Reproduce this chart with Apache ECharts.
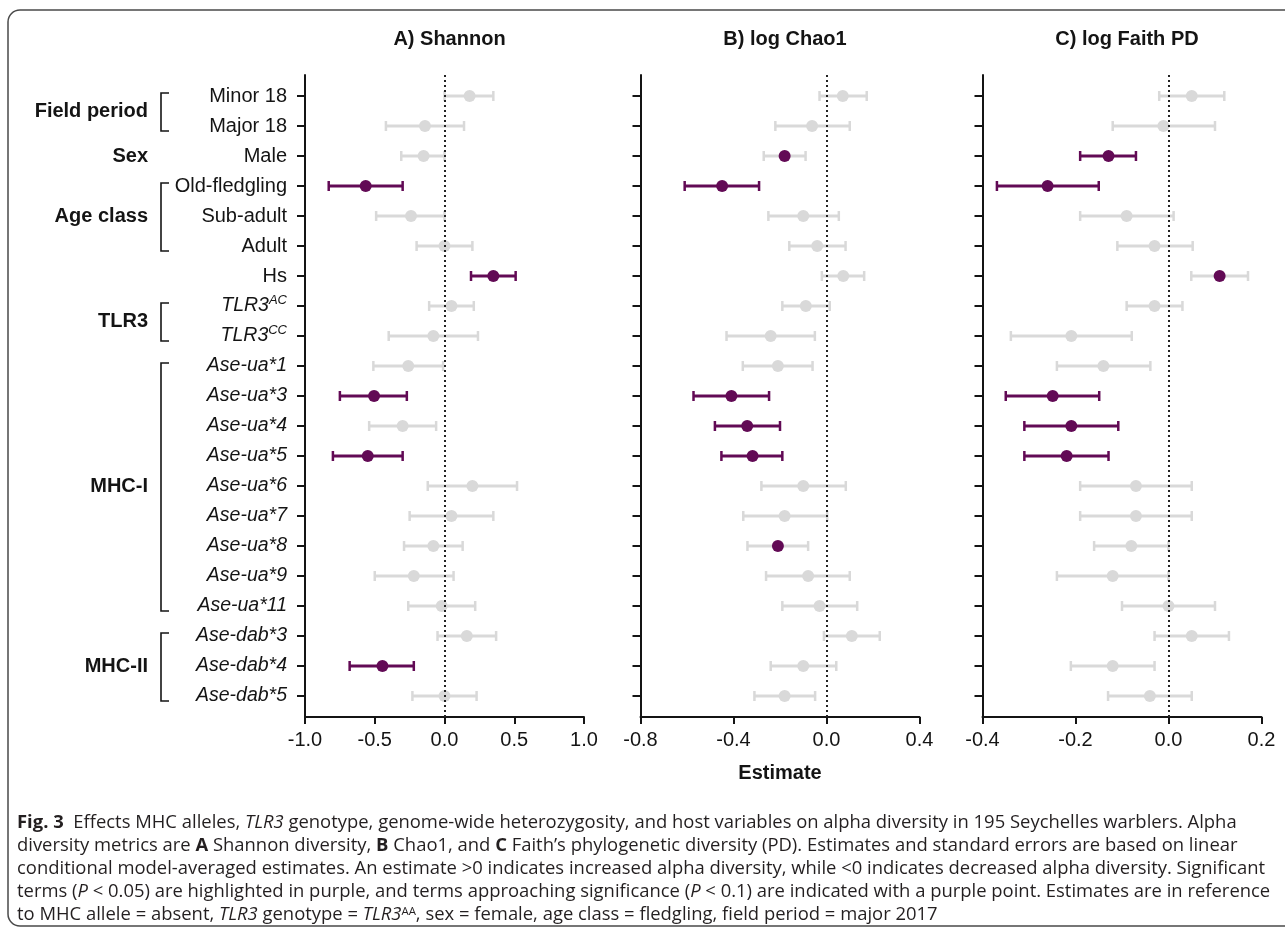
<!DOCTYPE html>
<html>
<head>
<meta charset="utf-8">
<title>Fig. 3 alpha diversity</title>
<script src="https://cdn.jsdelivr.net/npm/echarts@6/dist/echarts.min.js"></script>
<style>
  html, body { margin: 0; padding: 0; background: #fff; }
  #main { width: 1285px; height: 929px; }
</style>
</head>
<body>
<div id="main"></div>
<script>
// row labels, top to bottom
const rows = ['Minor 18', 'Major 18', 'Male', 'Old-fledgling', 'Sub-adult', 'Adult', 'Hs',
  'TLR3^AC', 'TLR3^CC', 'Ase-ua*1', 'Ase-ua*3', 'Ase-ua*4', 'Ase-ua*5', 'Ase-ua*6',
  'Ase-ua*7', 'Ase-ua*8', 'Ase-ua*9', 'Ase-ua*11', 'Ase-dab*3', 'Ase-dab*4', 'Ase-dab*5'];
// rows from this index on are written in italics
const firstItalicRow = 7;

// groups on the left: name, first row, last row, bracket?
const groupNames = ['Field period', 'Sex', 'Age class', 'TLR3', 'MHC-I', 'MHC-II'];
const groupFirst = [0, 2, 3, 7, 9, 18];
const groupLast = [1, 2, 5, 8, 17, 20];
const groupBracket = [true, false, true, true, true, true];

// significance: 2 = P < 0.05 (purple bar), 1 = P < 0.1 (purple point), 0 = none
// A) Shannon
const shannonEst = [0.18, -0.14, -0.15, -0.565, -0.24, 0.00, 0.35, 0.05, -0.08, -0.26, -0.505, -0.30, -0.55, 0.20, 0.05, -0.08, -0.22, -0.02, 0.16, -0.445, 0.00];
const shannonLo = [0.00, -0.42, -0.31, -0.83, -0.49, -0.20, 0.19, -0.11, -0.40, -0.51, -0.75, -0.54, -0.80, -0.12, -0.25, -0.29, -0.50, -0.26, -0.05, -0.68, -0.23];
const shannonHi = [0.35, 0.14, 0.00, -0.30, 0.00, 0.20, 0.51, 0.21, 0.24, -0.01, -0.27, -0.06, -0.30, 0.52, 0.35, 0.13, 0.065, 0.22, 0.37, -0.22, 0.23];
const shannonSig = [0, 0, 0, 2, 0, 0, 2, 0, 0, 0, 2, 0, 2, 0, 0, 0, 0, 0, 0, 2, 0];
const shannonTicks = [-1.0, -0.5, 0.0, 0.5, 1.0];

// B) log Chao1
const chaoEst = [0.07, -0.062, -0.18, -0.449, -0.10, -0.04, 0.072, -0.089, -0.24, -0.209, -0.409, -0.341, -0.318, -0.10, -0.18, -0.209, -0.079, -0.03, 0.109, -0.10, -0.18];
const chaoLo = [-0.03, -0.22, -0.27, -0.61, -0.25, -0.16, -0.02, -0.19, -0.43, -0.36, -0.572, -0.48, -0.452, -0.28, -0.358, -0.34, -0.26, -0.19, -0.011, -0.24, -0.31];
const chaoHi = [0.173, 0.10, -0.09, -0.29, 0.053, 0.082, 0.162, 0.014, -0.05, -0.06, -0.247, -0.20, -0.19, 0.083, 0.003, -0.079, 0.10, 0.132, 0.229, 0.042, -0.049];
const chaoSig = [0, 0, 1, 2, 0, 0, 0, 0, 0, 0, 2, 2, 2, 0, 0, 1, 0, 0, 0, 0, 0];
const chaoTicks = [-0.8, -0.4, 0.0, 0.4];

// C) log Faith PD
const faithEst = [0.05, -0.011, -0.129, -0.26, -0.09, -0.03, 0.11, -0.03, -0.209, -0.14, -0.249, -0.209, -0.219, -0.07, -0.07, -0.08, -0.12, 0.00, 0.05, -0.12, -0.04];
const faithLo = [-0.02, -0.12, -0.19, -0.369, -0.19, -0.11, 0.049, -0.09, -0.339, -0.24, -0.35, -0.31, -0.31, -0.19, -0.19, -0.16, -0.24, -0.10, -0.03, -0.21, -0.13];
const faithHi = [0.12, 0.10, -0.07, -0.15, 0.011, 0.052, 0.171, 0.03, -0.079, -0.039, -0.149, -0.108, -0.129, 0.05, 0.05, 0.00, 0.00, 0.10, 0.13, -0.03, 0.05];
const faithSig = [0, 0, 2, 2, 0, 0, 1, 0, 0, 0, 2, 2, 2, 0, 0, 0, 0, 0, 0, 0, 0];
const faithTicks = [-0.4, -0.2, 0.0, 0.2];

const panelTitles = ['A) Shannon', 'B) log Chao1', 'C) log Faith PD'];

const PURPLE = '#620a55';
const GREY = '#d9d9d9';
const INK = '#141414';
const CAPINK = '#231f20';
const FONT = '"Liberation Sans", Arial, Helvetica, sans-serif';
const CAPFONT = '"Open Sans", "Liberation Sans", sans-serif';

const panels = [
  { est: shannonEst, lo: shannonLo, hi: shannonHi, sig: shannonSig, ticks: shannonTicks },
  { est: chaoEst, lo: chaoLo, hi: chaoHi, sig: chaoSig, ticks: chaoTicks },
  { est: faithEst, lo: faithLo, hi: faithHi, sig: faithSig, ticks: faithTicks }
];
// grid left edges / widths (px)
const gridLeft = [305, 640.5, 982.5];
const gridWidth = 279;
const gridTop = 75;
const gridHeight = 642;

const rowIdx = rows.map((r, i) => i);

function rowLabel(value) {
  const i = Math.round(value);
  const txt = rows[i];
  if (txt === undefined) return '';
  if (i < firstItalicRow) return '{n|' + txt + '}';
  const parts = txt.split('^');
  if (parts.length > 1) return '{i|' + parts[0] + '}{s|' + parts[1] + '}';
  return '{i|' + txt + '}';
}

function fmtTick(v) {
  if (Math.abs(v) < 1e-9) return '0.0';
  return v.toFixed(1);
}

// error bar with end caps
function errRender(params, api) {
  const a = api.coord([api.value(0), api.value(2)]);
  const b = api.coord([api.value(1), api.value(2)]);
  const c = api.value(3) === 2 ? PURPLE : GREY;
  const h = 5;
  return {
    type: 'group',
    children: [
      { type: 'line', shape: { x1: a[0], y1: a[1], x2: b[0], y2: b[1] }, style: { stroke: c, lineWidth: 3 } },
      { type: 'line', shape: { x1: a[0], y1: a[1] - h, x2: a[0], y2: a[1] + h }, style: { stroke: c, lineWidth: 2.5 } },
      { type: 'line', shape: { x1: b[0], y1: b[1] - h, x2: b[0], y2: b[1] + h }, style: { stroke: c, lineWidth: 2.5 } }
    ]
  };
}

const chart = echarts.init(document.getElementById('main'), null, { renderer: 'canvas' });

const grid = [], xAxis = [], yAxis = [], series = [], title = [];
panels.forEach((p, k) => {
  grid.push({ left: gridLeft[k], top: gridTop, width: gridWidth, height: gridHeight });
  title.push({
    text: panelTitles[k],
    left: gridLeft[k] + gridWidth / 2,
    top: 24,
    textAlign: 'center',
    textStyle: { fontSize: 20, fontWeight: 'bold', color: INK, fontFamily: FONT }
  });
  xAxis.push({
    type: 'value',
    gridIndex: k,
    min: p.ticks[0],
    max: p.ticks[p.ticks.length - 1],
    interval: +(p.ticks[1] - p.ticks[0]).toFixed(6),
    name: k === 1 ? 'Estimate' : '',
    nameLocation: 'middle',
    nameGap: 46,
    nameTextStyle: { fontSize: 20, fontWeight: 'bold', color: INK, fontFamily: FONT },
    axisLine: { show: true, onZero: false, lineStyle: { color: INK, width: 2 } },
    axisTick: { show: true, length: 7, lineStyle: { color: INK, width: 2 } },
    axisLabel: { fontSize: 20, color: INK, fontFamily: FONT, margin: 13, formatter: fmtTick },
    splitLine: { show: false }
  });
  yAxis.push({
    type: 'value',
    gridIndex: k,
    min: -0.7,
    max: 20.7,
    inverse: true,
    axisLine: { show: true, onZero: false, lineStyle: { color: INK, width: 2 } },
    axisTick: { show: true, length: 8, customValues: rowIdx, lineStyle: { color: INK, width: 2 } },
    axisLabel: {
      show: k === 0,
      customValues: rowIdx,
      margin: 18,
      formatter: rowLabel,
      rich: {
        n: { fontSize: 20, color: INK, fontFamily: FONT, lineHeight: 24 },
        i: { fontSize: 19.5, color: INK, fontFamily: FONT, fontStyle: 'italic', lineHeight: 24 },
        s: { fontSize: 13, color: INK, fontFamily: FONT, fontStyle: 'italic', verticalAlign: 'top', lineHeight: 11 }
      }
    },
    splitLine: { show: false }
  });
  series.push({
    type: 'custom',
    xAxisIndex: k,
    yAxisIndex: k,
    renderItem: errRender,
    encode: { x: [0, 1], y: 2 },
    data: p.lo.map((v, i) => [v, p.hi[i], i, p.sig[i]]),
    z: 2,
    silent: true
  });
  series.push({
    type: 'scatter',
    xAxisIndex: k,
    yAxisIndex: k,
    symbolSize: 12,
    data: p.est.map((v, i) => ({
      value: [v, i],
      itemStyle: { color: p.sig[i] > 0 ? PURPLE : GREY, opacity: 1 }
    })),
    z: 3,
    silent: true,
    markLine: {
      silent: true,
      symbol: 'none',
      label: { show: false },
      lineStyle: { type: [2, 3], color: '#222', width: 2 },
      data: [{ xAxis: 0 }],
      z: 4
    }
  });
});

// figure caption, line by line
const capLines = [
  '{b|Fig. 3}  Effects MHC alleles, {i|TLR3} genotype, genome-wide heterozygosity, and host variables on alpha diversity in 195 Seychelles warblers. Alpha',
  'diversity metrics are {b|A} Shannon diversity, {b|B} Chao1, and {b|C} Faith\u2019s phylogenetic diversity (PD). Estimates and standard errors are based on linear',
  'conditional model-averaged estimates. An estimate >0 indicates increased alpha diversity, while <0 indicates decreased alpha diversity. Significant',
  'terms ({i|P} < 0.05) are highlighted in purple, and terms approaching significance ({i|P} < 0.1) are indicated with a purple point. Estimates are in reference',
  'to MHC allele = absent, {i|TLR3} genotype = {i|TLR3}{sup|AA}, sex = female, age class = fledgling, field period = major 2017'
];
// fit the first caption line to the width it has in the figure
const capX = 17, capRight = 1238;
const ctx = document.createElement('canvas').getContext('2d');
ctx.font = '16px ' + CAPFONT;
const plain = capLines[0].replace(/\{\w+\|([^}]*)\}/g, '$1');
let CAPSIZE = 16 * (capRight - capX) / ctx.measureText(plain).width;
CAPSIZE = Math.max(14, Math.min(19, CAPSIZE));

const capRich = {
  b: { fontSize: CAPSIZE, fontFamily: CAPFONT, fontWeight: 'bold', fill: CAPINK },
  i: { fontSize: CAPSIZE, fontFamily: CAPFONT, fontStyle: 'italic', fill: CAPINK },
  sup: { fontSize: CAPSIZE * 0.62, fontFamily: CAPFONT, fill: CAPINK, verticalAlign: 'top', lineHeight: 10 }
};

const graphic = [
  {
    type: 'rect',
    shape: { x: 8, y: 10, width: 1292, height: 916, r: 12 },
    style: { fill: 'none', stroke: '#4a4a4a', lineWidth: 1.5 },
    silent: true
  }
];
capLines.forEach((t, i) => {
  graphic.push({
    type: 'text',
    x: capX,
    y: 823 + i * 23,
    silent: true,
    style: {
      text: t,
      fontSize: CAPSIZE,
      fontFamily: CAPFONT,
      fill: CAPINK,
      verticalAlign: 'middle',
      rich: capRich
    }
  });
});

chart.setOption({
  backgroundColor: '#fff',
  animation: false,
  title: title,
  grid: grid,
  xAxis: xAxis,
  yAxis: yAxis,
  series: series,
  graphic: graphic
});

// group labels + brackets, placed at the rows they cover
const bx = 161;
groupNames.forEach((name, g) => {
  const y1 = chart.convertToPixel({ yAxisIndex: 0 }, groupFirst[g]);
  const y2 = chart.convertToPixel({ yAxisIndex: 0 }, groupLast[g]);
  graphic.push({
    type: 'text',
    x: 148,
    y: (y1 + y2) / 2,
    silent: true,
    style: {
      text: name, fontSize: 20, fontWeight: 'bold', fontFamily: FONT, fill: INK,
      align: 'right', verticalAlign: 'middle'
    }
  });
  if (groupBracket[g]) {
    const t = y1 - 3, b = y2 + 5;
    graphic.push({
      type: 'polyline',
      silent: true,
      shape: { points: [[bx + 8, t], [bx, t], [bx, b], [bx + 8, b]] },
      style: { stroke: INK, lineWidth: 1.6, fill: 'none' }
    });
  }
});
chart.setOption({ graphic: graphic });
</script>
</body>
</html>
